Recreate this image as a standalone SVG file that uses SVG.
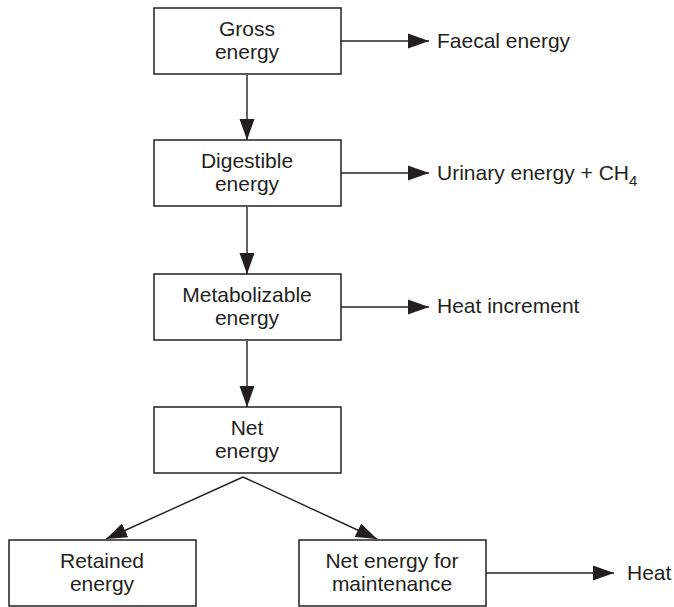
<svg xmlns="http://www.w3.org/2000/svg" width="674" height="607" viewBox="0 0 674 607">
<style>
  .box { fill: #ffffff; stroke: #231f20; stroke-width: 1.5; }
  .lbl { font-family: "Liberation Sans", Arial, sans-serif; font-size: 21px; fill: #231f20; }
  .mid { text-anchor: middle; }
  .conn { stroke: #231f20; stroke-width: 1.4; fill: none; marker-end: url(#ah); }
</style>
<defs>
  <marker id="ah" markerUnits="userSpaceOnUse" markerWidth="22" markerHeight="16" refX="21" refY="8" orient="auto">
    <path d="M0,0.5 L21,8 L0,15.5 z" fill="#231f20"/>
  </marker>
</defs>
<rect width="674" height="607" fill="#ffffff"/>
<g id="connectors">
  <line class="conn" x1="247" y1="75" x2="247" y2="140"/>
  <line class="conn" x1="247" y1="207" x2="247" y2="274"/>
  <line class="conn" x1="247" y1="341" x2="247" y2="407"/>
  <line class="conn" x1="341" y1="41" x2="429" y2="41"/>
  <line class="conn" x1="341" y1="173" x2="429" y2="173"/>
  <line class="conn" x1="341" y1="307" x2="429" y2="307"/>
  <line class="conn" x1="486" y1="573" x2="614" y2="573"/>
  <line class="conn" x1="243" y1="477" x2="106" y2="539"/>
  <line class="conn" x1="243" y1="477" x2="377" y2="539"/>
</g>
<g id="gross">
  <rect class="box" x="154" y="8" width="187" height="66"/>
  <text class="lbl mid" x="247" y="36">Gross</text>
  <text class="lbl mid" x="247" y="59">energy</text>
</g>
<g id="digestible">
  <rect class="box" x="154" y="140" width="187" height="66"/>
  <text class="lbl mid" x="247" y="168">Digestible</text>
  <text class="lbl mid" x="247" y="191">energy</text>
</g>
<g id="metabolizable">
  <rect class="box" x="154" y="274" width="187" height="66"/>
  <text class="lbl mid" x="247" y="302">Metabolizable</text>
  <text class="lbl mid" x="247" y="325">energy</text>
</g>
<g id="net">
  <rect class="box" x="154" y="407" width="187" height="66"/>
  <text class="lbl mid" x="247" y="435">Net</text>
  <text class="lbl mid" x="247" y="458">energy</text>
</g>
<g id="retained">
  <rect class="box" x="9" y="540" width="187" height="66"/>
  <text class="lbl mid" x="102" y="568">Retained</text>
  <text class="lbl mid" x="102" y="591">energy</text>
</g>
<g id="maintenance">
  <rect class="box" x="299" y="540" width="187" height="66"/>
  <text class="lbl mid" x="392" y="568">Net energy for</text>
  <text class="lbl mid" x="392" y="591">maintenance</text>
</g>
<g id="faecal">
  <text class="lbl" x="437" y="48">Faecal energy</text>
</g>
<g id="urinary">
  <text class="lbl" x="437" y="180">Urinary energy + CH<tspan font-size="15" dy="6">4</tspan></text>
</g>
<g id="heat-increment">
  <text class="lbl" x="437" y="313">Heat increment</text>
</g>
<g id="heat">
  <text class="lbl" x="627" y="580">Heat</text>
</g>
</svg>
